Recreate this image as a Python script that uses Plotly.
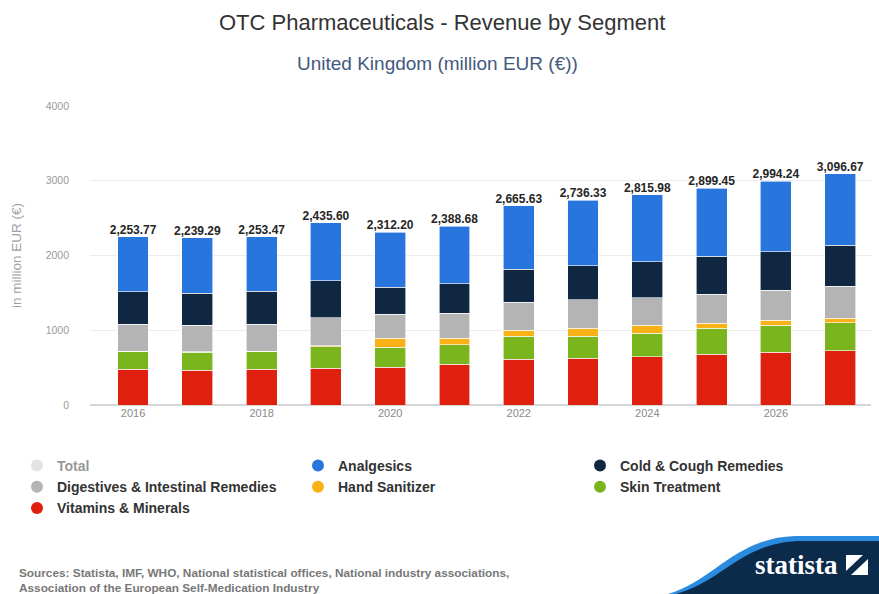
import plotly.graph_objects as go

# data (million EUR)
years = [2016, 2017, 2018, 2019, 2020, 2021, 2022, 2023, 2024, 2025, 2026, 2027]
totals = [2253.77, 2239.29, 2253.47, 2435.60, 2312.20, 2388.68,
          2665.63, 2736.33, 2815.98, 2899.45, 2994.24, 3096.67]
vitamins = [478, 468, 478, 491, 504, 548, 615, 624, 647, 682, 705, 726]
skin = [235, 237, 235, 289, 268, 255, 308, 299, 312, 344, 365, 375]
sanitizer = [5, 5, 5, 10, 120, 89, 80, 103, 111, 67, 67, 59]
digestives = [362, 356, 362, 378, 325, 334, 371, 379, 365, 392, 401, 432]
cold = [436, 428, 445, 495, 357, 393, 445, 455, 482, 508, 513, 544]
analgesics = [738, 745, 728, 773, 738, 770, 847, 876, 899, 906, 943, 961]

segments = [
    ("Vitamins & Minerals", vitamins, "#e0200f"),
    ("Skin Treatment", skin, "#7ab51d"),
    ("Hand Sanitizer", sanitizer, "#f8b117"),
    ("Digestives & Intestinal Remedies", digestives, "#b4b4b4"),
    ("Cold & Cough Remedies", cold, "#0f2741"),
    ("Analgesics", analgesics, "#2876dd"),
]
# legend columns as in the reference
legend_cols = [
    ["Total", "Digestives & Intestinal Remedies", "Vitamins & Minerals"],
    ["Analgesics", "Hand Sanitizer"],
    ["Cold & Cough Remedies", "Skin Treatment"],
]

W, H = 879, 594
ML, MR, MT, MB = 90, 8, 106, 189
PW, PH = W - ML - MR, H - MT - MB


def px_x(p):
    return (p - ML) / PW


def px_y(p):
    return (H - MB - p) / PH


fig = go.Figure()

for name, vals, col in segments:
    fig.add_trace(go.Bar(
        x=years, y=vals, name=name, marker_color=col,
        marker_line_color="white", marker_line_width=0.6,
        width=0.48, showlegend=False,
        hovertemplate="%{x}: %{y}<extra>" + name + "</extra>",
    ))

fig.add_trace(go.Scatter(
    x=years, y=totals, mode="text",
    text=["<b>" + f"{v:,.2f}" + "</b>" for v in totals],
    textposition="top center",
    textfont=dict(size=12, color="#262626", family="Liberation Sans"),
    showlegend=False, hoverinfo="skip",
))

# legend entries (circle markers), three column legends
colors = {n: c for n, _, c in segments}
colors["Total"] = "#c9c9c9"
legend_keys = ["legend", "legend2", "legend3"]
for key, col_names in zip(legend_keys, legend_cols):
    for name in col_names:
        fig.add_trace(go.Scatter(
            x=[None], y=[None], mode="markers", name="<b>" + name + "</b>", legend=key,
            legendgroup=name, marker=dict(color=colors[name], size=12),
            visible="legendonly" if name == "Total" else True,
        ))

legend_style = dict(orientation="v", xanchor="left", yanchor="top", traceorder="normal",
                    font=dict(size=14, color="#333333"), bgcolor="rgba(0,0,0,0)",
                    tracegroupgap=1, y=px_y(450))
fig.update_layout(
    legend=dict(legend_style, x=px_x(17)),
    legend2=dict(legend_style, x=px_x(298)),
    legend3=dict(legend_style, x=px_x(580)),
)

fig.update_layout(
    width=W, height=H,
    margin=dict(l=ML, r=MR, t=MT, b=MB, autoexpand=False),
    barmode="stack",
    paper_bgcolor="white", plot_bgcolor="white",
    font=dict(family="Liberation Sans", color="#333333"),
    showlegend=True,
    xaxis=dict(range=[2015.33, 2027.48], tickmode="array", tickvals=[2016, 2018, 2020, 2022, 2024, 2026],
               showgrid=False, zeroline=False, showline=False, ticks="",
               tickfont=dict(size=11, color="#8a8a8a")),
    yaxis=dict(range=[0, 4000], tickvals=[0, 1000, 2000, 3000, 4000],
               gridcolor="#ececec", gridwidth=1, zeroline=True, zerolinecolor="#d6d6d6",
               tickfont=dict(size=10.5, color="#9a9a9a"), ticklabelstandoff=20,
               title=dict(text="in million EUR (€)", font=dict(size=13.5, color="#a0a0a0"), standoff=20)),
    annotations=[
        dict(text="OTC Pharmaceuticals - Revenue by Segment", xref="paper", yref="paper",
             x=px_x(442), y=px_y(23), xanchor="center", yanchor="middle", showarrow=False,
             font=dict(size=22, color="#333333")),
        dict(text="United Kingdom (million EUR (€))", xref="paper", yref="paper",
             x=px_x(437), y=px_y(63), xanchor="center", yanchor="middle", showarrow=False,
             font=dict(size=19, color="#44597e")),
        dict(text="<b>Sources: Statista, IMF, WHO, National statistical offices, National industry associations,"
                  "<br>Association of the European Self-Medication Industry</b>",
             xref="paper", yref="paper", x=px_x(17), y=px_y(580), xanchor="left", yanchor="middle",
             align="left", showarrow=False, font=dict(size=11.8, color="#777777")),
        dict(text="<b>statista</b>", xref="paper", yref="paper", x=px_x(840), y=px_y(565),
             xanchor="right", yanchor="middle", showarrow=False,
             font=dict(size=27, color="white", family="Liberation Sans Narrow")),
    ],
    shapes=[
        dict(type="path", xref="paper", yref="paper", layer="above",
             path=f"M {px_x(668)},{px_y(594)} C {px_x(715)},{px_y(580)} {px_x(735)},{px_y(538)} {px_x(795)},{px_y(536)} "
                  f"L {px_x(879)},{px_y(536)} L {px_x(879)},{px_y(594)} Z",
             fillcolor="#2a8be0", line=dict(width=0)),
        dict(type="path", xref="paper", yref="paper", layer="above",
             path=f"M {px_x(676)},{px_y(594)} C {px_x(722)},{px_y(582)} {px_x(742)},{px_y(542)} {px_x(800)},{px_y(541)} "
                  f"L {px_x(879)},{px_y(541)} L {px_x(879)},{px_y(594)} Z",
             fillcolor="#0c2b4b", line=dict(width=0)),
        dict(type="path", xref="paper", yref="paper", layer="above",
             path=f"M {px_x(846)},{px_y(555)} L {px_x(868)},{px_y(555)} L {px_x(868)},{px_y(575)} "
                  f"L {px_x(846)},{px_y(575)} Z",
             fillcolor="white", line=dict(width=0)),
        dict(type="path", xref="paper", yref="paper", layer="above",
             path=f"M {px_x(846)},{px_y(571)} L {px_x(863)},{px_y(555)} L {px_x(868)},{px_y(555)} "
                  f"L {px_x(868)},{px_y(559)} L {px_x(851)},{px_y(575)} L {px_x(846)},{px_y(575)} Z",
             fillcolor="#0c2b4b", line=dict(width=0)),
    ],
)

fig.write_html("out.html", config={"displayModeBar": False},
               post_script="document.body.style.margin='0';")
